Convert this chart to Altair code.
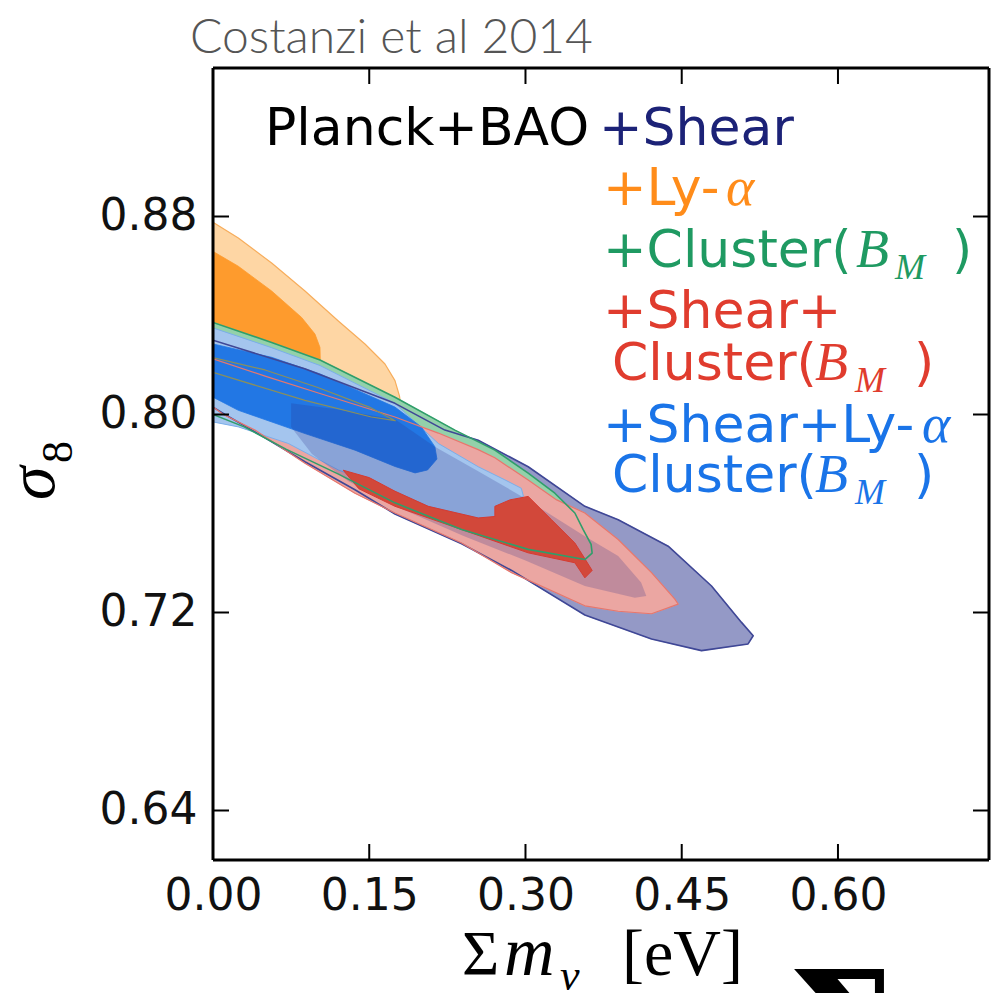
import altair as alt
import pandas as pd

# ---------------- data ----------------
x_ticks = [0.00, 0.15, 0.30, 0.45, 0.60]
y_ticks = [0.64, 0.72, 0.80, 0.88]

# Planck+BAO+Ly-alpha  (95% and 68% regions)
orange95_x = [0.0, 0.0243, 0.0563, 0.0883, 0.1203, 0.1459, 0.1651, 0.1747, 0.1790, 0.1800, 0.170, 0.140, 0.100, 0.050, 0.0]
orange95_y = [0.8777, 0.8713, 0.8612, 0.8499, 0.8378, 0.8285, 0.8204, 0.8137, 0.8075, 0.8045, 0.8040, 0.8080, 0.8130, 0.8190, 0.8230]
orange68_x = [0.0, 0.0243, 0.0563, 0.0851, 0.0979, 0.1027, 0.1030, 0.0950, 0.050, 0.0]
orange68_y = [0.8659, 0.8599, 0.8499, 0.8392, 0.8325, 0.8271, 0.8215, 0.8190, 0.8250, 0.8300]

# Planck+BAO+Shear
navy95_x = [0.0, 0.088, 0.1747, 0.2226, 0.2546, 0.3026, 0.357, 0.389, 0.437, 0.4786, 0.5074, 0.5186, 0.5137,
            0.469, 0.421, 0.357, 0.2867, 0.2387, 0.1747, 0.1363, 0.0883, 0.0403, 0.0115, 0.0]
navy95_y = [0.830, 0.8185, 0.8045, 0.7937, 0.7896, 0.7789, 0.7629, 0.7575, 0.7468, 0.7307, 0.7160, 0.7106, 0.7073,
            0.7046, 0.7093, 0.7190, 0.7370, 0.7478, 0.7598, 0.7696, 0.7809, 0.7930, 0.8000, 0.8030]
navy68_x = [0.075, 0.120, 0.175, 0.213, 0.255, 0.296, 0.357, 0.389, 0.411, 0.416, 0.405, 0.357, 0.300, 0.240,
            0.175, 0.130, 0.095, 0.075]
navy68_y = [0.8045, 0.8020, 0.7980, 0.7870, 0.7770, 0.7670, 0.7508, 0.7428, 0.7321, 0.7267, 0.7260, 0.7307,
            0.7410, 0.7510, 0.7630, 0.7730, 0.7840, 0.7950]

# Planck+BAO+Cluster(B_M)
green95_x = [0.0, 0.0563, 0.1027, 0.1747, 0.2322, 0.2706, 0.3026, 0.3282, 0.3474, 0.3554, 0.3630, 0.3640,
             0.3570, 0.3026, 0.2387, 0.1747, 0.1200, 0.0700, 0.0300, 0.0]
green95_y = [0.8372, 0.8291, 0.8220, 0.8070, 0.7937, 0.7856, 0.7763, 0.7682, 0.7602, 0.7535, 0.7475, 0.7440,
             0.7414, 0.7455, 0.7535, 0.7643, 0.7760, 0.7860, 0.7950, 0.8000]
green68_x = [0.0, 0.0883, 0.1520, 0.1750, 0.1500, 0.1000, 0.0500, 0.0]
green68_y = [0.8170, 0.8057, 0.7990, 0.7975, 0.8030, 0.8110, 0.8180, 0.8230]

# Planck+BAO+Shear+Cluster(B_M)
red95_x = [0.0, 0.0500, 0.1027, 0.1747, 0.2163, 0.2546, 0.2706, 0.3026, 0.3300, 0.3570, 0.3890, 0.4210, 0.4434,
           0.4466, 0.4210, 0.3890, 0.3570, 0.2867, 0.2387, 0.1747, 0.1363, 0.0883, 0.0403, 0.0100, 0.0]
red95_y = [0.8225, 0.8155, 0.8085, 0.7990, 0.7925, 0.7858, 0.7825, 0.7735, 0.7655, 0.7602, 0.7495, 0.7361, 0.7254,
           0.7234, 0.7195, 0.7205, 0.7227, 0.7361, 0.7481, 0.7602, 0.7682, 0.7803, 0.7937, 0.8000, 0.8030]
red68_x = [0.1250, 0.1500, 0.1747, 0.2066, 0.2546, 0.2706, 0.2706, 0.2850, 0.3026, 0.3250, 0.3474, 0.3554, 0.3640,
           0.3570, 0.3474, 0.3026, 0.2387, 0.1747, 0.1400, 0.1250]
red68_y = [0.7775, 0.7745, 0.7690, 0.7629, 0.7582, 0.7588, 0.7629, 0.7655, 0.7669, 0.7575, 0.7481, 0.7428, 0.7370,
           0.7340, 0.7401, 0.7441, 0.7535, 0.7629, 0.7700, 0.7775]

# Planck+BAO+Shear+Ly-alpha+Cluster(B_M)
blue95_x = [0.0, 0.0563, 0.1027, 0.1747, 0.2163, 0.2546, 0.2802, 0.2960, 0.2980, 0.2706, 0.2546, 0.2066, 0.1747,
            0.1203, 0.0723, 0.0243, 0.0]
blue95_y = [0.8350, 0.8270, 0.8198, 0.8045, 0.7883, 0.7789, 0.7736, 0.7702, 0.7670, 0.7585, 0.7582, 0.7629, 0.7690,
            0.7776, 0.7883, 0.7950, 0.7970]
blue68_x = [0.0, 0.0563, 0.1027, 0.1747, 0.2000, 0.2130, 0.2150, 0.2060, 0.1940, 0.1747, 0.1363, 0.0883, 0.0243, 0.0]
blue68_y = [0.8285, 0.8231, 0.8164, 0.8030, 0.7950, 0.7870, 0.7820, 0.7776, 0.7764, 0.7790, 0.7856, 0.7923, 0.8017,
            0.8070]

contours = [
    ("orange95", orange95_x, orange95_y), ("orange68", orange68_x, orange68_y),
    ("navy95", navy95_x, navy95_y), ("navy68", navy68_x, navy68_y),
    ("green95", green95_x, green95_y), ("green68", green68_x, green68_y),
    ("red95", red95_x, red95_y), ("red68", red68_x, red68_y),
    ("blue95", blue95_x, blue95_y), ("blue68", blue68_x, blue68_y),
]

rows = []
for name, xs, ys in contours:
    ring_x = xs + xs[:1]
    ring_y = ys + ys[:1]
    for i, (a, b) in enumerate(zip(ring_x, ring_y)):
        rows.append({"shape": name, "k": i, "x": a, "y": b})
df = pd.DataFrame(rows)

# ---------------- layout ----------------
W, H = 776, 792
L, T = 213, 68

X = alt.X("x:Q", scale=alt.Scale(domain=[0, 0.745], nice=False, zero=False),
          axis=alt.Axis(values=x_ticks, format=".2f", title=None, grid=False, ticks=False, domain=False,
                        labelFont="DejaVu Sans", labelFontSize=44, labelColor="#111111",
                        labelPadding=14, labelFlush=False, labelOverlap=False))
Y = alt.Y("y:Q", scale=alt.Scale(domain=[0.62, 0.94], nice=False, zero=False),
          axis=alt.Axis(values=y_ticks, format=".2f", title=None, grid=False, ticks=False, domain=False,
                        labelFont="DejaVu Sans", labelFontSize=44, labelColor="#111111",
                        labelPadding=16, labelOverlap=False))

base = alt.Chart(df)


def poly(name, **mk):
    return base.transform_filter(alt.datum.shape == name).mark_line(
        clip=True, interpolate="linear", strokeJoin="round", **mk
    ).encode(x=X, y=Y, order="k:Q")


layers = [
    poly("orange95", fill="#fed6a4", stroke="#f7ad5c", strokeWidth=1.2),
    poly("orange68", fill="#fe9b2d", stroke="#fe9b2d", strokeWidth=0.8),
    poly("navy95", fill="#9499c6", stroke="#9499c6", strokeWidth=0.8),
    poly("green95", fill="#93d1aa", stroke="#93d1aa", strokeWidth=0.8),
    poly("red95", fill="#eba6a2", stroke="#eba6a2", strokeWidth=0.8),
    poly("blue95", fill="#a4c5ee", stroke="#7aaeea", strokeWidth=1.0),
    poly("blue68", fill="#2277e4", stroke="#2277e4", strokeWidth=0.8),
    poly("navy68", fill="#2a2f8a", fillOpacity=0.22, stroke="#2a2f8a", strokeOpacity=0.0, strokeWidth=0.5),
    poly("red68", fill="#d2483a", stroke="#d63a30", strokeWidth=1.0),
    poly("navy95", stroke="#3f4796", strokeWidth=1.6),
    poly("red95", stroke="#e6776d", strokeWidth=1.2),
    poly("green95", stroke="#2f9e6a", strokeWidth=1.6),
    poly("green68", stroke="#8a8f5c", strokeWidth=1.2),
]

# inward ticks on all four sides
xt = pd.DataFrame({"x": x_ticks})
yt = pd.DataFrame({"y": y_ticks})
tick_len = 16
layers += [
    alt.Chart(xt).mark_rule(color="black", strokeWidth=2).encode(x=X, y=alt.value(H), y2=alt.value(H - tick_len)),
    alt.Chart(xt).mark_rule(color="black", strokeWidth=2).encode(x=X, y=alt.value(0), y2=alt.value(tick_len)),
    alt.Chart(yt).mark_rule(color="black", strokeWidth=2).encode(y=Y, x=alt.value(0), x2=alt.value(tick_len)),
    alt.Chart(yt).mark_rule(color="black", strokeWidth=2).encode(y=Y, x=alt.value(W), x2=alt.value(W - tick_len)),
]

# frame (spines)
one = pd.DataFrame({"a": [0]})
spine = dict(color="black", strokeWidth=3)
layers += [
    alt.Chart(one).mark_rule(**spine).encode(x=alt.value(0), y=alt.value(0), y2=alt.value(H)),
    alt.Chart(one).mark_rule(**spine).encode(x=alt.value(W), y=alt.value(0), y2=alt.value(H)),
    alt.Chart(one).mark_rule(**spine).encode(y=alt.value(0), x=alt.value(0), x2=alt.value(W)),
    alt.Chart(one).mark_rule(**spine).encode(y=alt.value(H), x=alt.value(0), x2=alt.value(W)),
]


def txt(s, px, py, color, size, font, style="normal", weight="normal", angle=0):
    kw = dict(text=s, font=font, fontSize=size, fontStyle=style, fontWeight=weight, color=color,
              align="left", baseline="alphabetic")
    if angle:
        kw["angle"] = angle
    return alt.Chart(one).mark_text(**kw).encode(x=alt.value(px - L), y=alt.value(py - T))


SANS = "DejaVu Sans"
SERIF = "Liberation Serif"
c_navy, c_orange, c_green, c_red, c_blue = "#1c2277", "#ff8c1a", "#1f9a62", "#e03c2e", "#1a74e8"

legend_sans = [
    ("Planck+BAO", "#000000", 265, 145),
    ("+Shear", c_navy, 599, 145),
    ("+Ly-", c_orange, 603, 205),
    ("+Cluster(", c_green, 603, 267),
    (")", c_green, 952, 267),
    ("+Shear+", c_red, 603, 328),
    ("Cluster(", c_red, 612, 380),
    (")", c_red, 914, 380),
    ("+Shear+Ly-", c_blue, 603, 442),
    ("Cluster(", c_blue, 612, 492),
    (")", c_blue, 914, 492),
]
legend_math = [
    ("α", c_orange, 726, 205, 54),
    ("α", c_blue, 922, 442, 54),
    ("B", c_green, 856, 267, 54), ("M", c_green, 895, 279, 36),
    ("B", c_red, 815, 380, 54), ("M", c_red, 855, 392, 36),
    ("B", c_blue, 815, 492, 54), ("M", c_blue, 855, 504, 36),
]
for s, c, px, py in legend_sans:
    layers.append(txt(s, px, py, c, 52, SANS))
for s, c, px, py, sz in legend_math:
    layers.append(txt(s, px, py, c, sz, SERIF, style="italic"))

# titles
layers += [
    txt("Costanzi et al 2014", 190, 53, "#555555", 48, "Lato", weight=300),
    txt("Σ", 462, 975, "#000000", 64, SERIF),
    txt("m", 504, 975, "#000000", 70, SERIF, style="italic"),
    txt("ν", 560, 990, "#000000", 44, SERIF, style="italic"),
    txt("[eV]", 622, 975, "#000000", 66, SERIF),
    txt("σ", 54, 500, "#000000", 68, SERIF, style="italic", angle=270),
    txt("8", 72, 463, "#000000", 44, SERIF, angle=270),
    txt("Σ", 788, 1078, "#000000", 150, "DejaVu Serif", weight="bold"),
]

chart = alt.layer(*layers).properties(
    width=W, height=H,
    autosize=alt.AutoSizeParams(type="none"),
    padding={"left": L, "top": T, "right": 991 - L - W, "bottom": 993 - T - H},
    background="white",
).configure_view(stroke=None)

chart.save("out.html", embed_options={"renderer": "svg", "actions": False})
